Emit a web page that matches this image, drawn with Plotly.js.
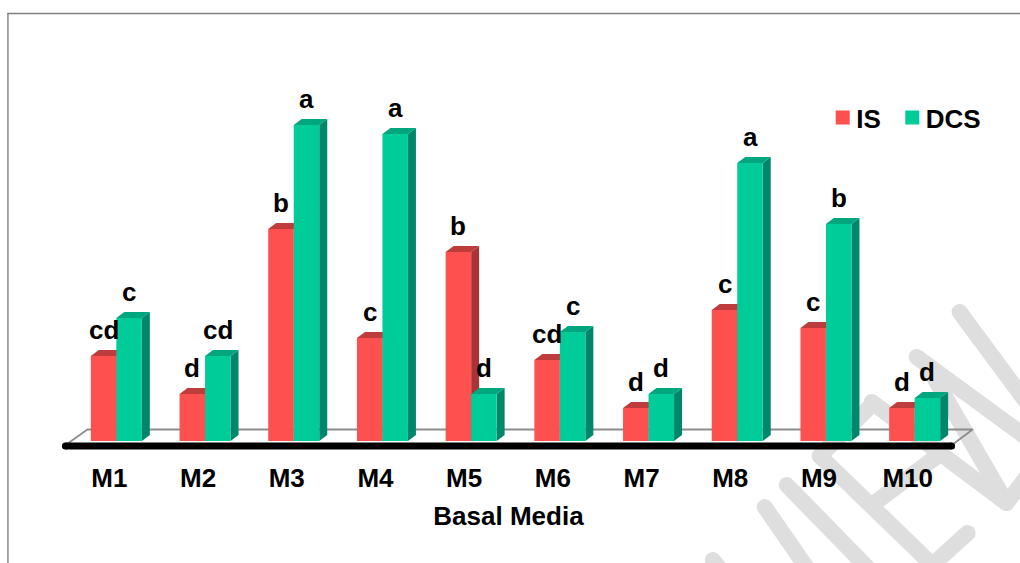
<!DOCTYPE html>
<html><head><meta charset="utf-8"><script src="https://cdn.plot.ly/plotly-3.0.1.min.js"></script>
<style>html,body{margin:0;padding:0;background:#fff}.shapelayer path{stroke-linecap:round;stroke-linejoin:round}
.legendtext{transform:translateX(-6.5px)}.legendbar path,.legendpoints path{transform:translate(20px,0) scale(1.17)}</style></head><body><div id="c" style="width:1020px;height:563px"></div>
<script>
const categories=['M1','M2','M3','M4','M5','M6','M7','M8','M9','M10'];
const isValues=[85,47,212,103,189,81,33,131,113,33];
const dcsValues=[123,85,316,307,47,109,47,278,217,43];
const isLetters=['cd','d','b','c','b','cd','d','c','c','d'];
const dcsLetters=['c','cd','a','a','d','c','d','a','b','d'];
const FONT='"Liberation Sans", Arial, sans-serif';
const W=1020,H=563,L=57.6,R=959.4,T=41,B=441;
const step=88.78, barW=0.2875, dx=8/step, dy=6;
const cols={is:{f:'#FF5050',t:'#BF3C3C',s:'#A83535'},dcs:{f:'#00CC99',t:'#00A67D',s:'#00866A'}};
function solid(path,color){return {type:'path',xref:'x',yref:'y',path,fillcolor:color,line:{width:0},layer:'between'};}
const shapes=[];
const px=x=>(x-L)/(R-L), py=y=>1-(y-T)/(B-T);
const wm=[[960,312,1040,420],[917,357,1040,447],[930,370,1007,503],[872,402,1007,503],[1007,503,1040,460],
[820,456,940,572],[968,533,925,572],[875,503,935,458],[820,456,873,404],[787,485,875,575],[765,507,812,575],[713,560,725,575]];
wm.forEach(s=>shapes.push({type:'line',xref:'paper',yref:'paper',x0:px(s[0]),y0:py(s[1]),x1:px(s[2]),y1:py(s[3]),line:{color:'#DEDEDE',width:16},layer:'below'}));
shapes.push({type:'line',xref:'paper',yref:'paper',x0:px(7.5),y0:py(13.5),x1:px(1025),y1:py(13.5),line:{color:'#808080',width:1.4},layer:'below'});
shapes.push({type:'line',xref:'paper',yref:'paper',x0:px(7.5),y0:py(13.5),x1:px(7.5),y1:py(570),line:{color:'#808080',width:1.4},layer:'below'});
shapes.push({type:'path',xref:'paper',yref:'paper',path:`M${px(68)},${py(443)}L${px(87)},${py(429.5)}L${px(973)},${py(429.5)}L${px(955)},${py(443)}`,line:{color:'#8C8C8C',width:1.8},layer:'below'});
shapes.push({type:'rect',xref:'paper',yref:'paper',x0:px(65),x1:px(952),y0:py(449.5),y1:py(442.5),fillcolor:'#000',line:{width:0},layer:'below'});
[65,952].forEach(c=>shapes.push({type:'circle',xref:'paper',yref:'paper',x0:px(c-3.5),x1:px(c+3.5),y0:py(449.5),y1:py(442.5),fillcolor:'#000',line:{width:0},layer:'below'}));
function box(val,x0,c){
  const x1=x0+barW;
  shapes.push(solid(`M${x1},0L${x1+dx},${dy}L${x1+dx},${val+dy}L${x1},${val}Z`,c.s));
  shapes.push(solid(`M${x0},${val}L${x0+dx},${val+dy}L${x1+dx},${val+dy}L${x1},${val}Z`,c.t));
}
categories.forEach((m,i)=>box(isValues[i],i-barW,cols.is));
categories.forEach((m,i)=>box(dcsValues[i],i,cols.dcs));
const annotations=[];
const lf={family:FONT,size:26,color:'#000',weight:700};
categories.forEach((m,i)=>{
  annotations.push({x:i-barW/2,y:isValues[i],xref:'x',yref:'y',text:isLetters[i],showarrow:false,yanchor:'middle',yshift:26,font:lf});
  annotations.push({x:i+barW/2,y:dcsValues[i],xref:'x',yref:'y',text:dcsLetters[i],showarrow:false,yanchor:'middle',yshift:26,font:lf});
});
const idx=categories.map((m,i)=>i);
const tickPos=idx.map(i=>i-7/step);
const traces=[
 {type:'bar',name:'IS',x:idx,y:isValues,marker:{color:cols.is.f,line:{width:0}},hoverinfo:'skip',cliponaxis:false},
 {type:'bar',name:'DCS',x:idx,y:dcsValues,marker:{color:cols.dcs.f,line:{width:0}},hoverinfo:'skip',cliponaxis:false}
];
const layout={width:W,height:H,paper_bgcolor:'rgba(0,0,0,0)',plot_bgcolor:'rgba(0,0,0,0)',
 margin:{l:L,r:W-R,t:T,b:H-B,pad:0},barmode:'group',bargap:1-2*barW,bargroupgap:0,
 xaxis:{type:'linear',range:[-0.5-14/step,9.5],tickmode:'array',tickvals:tickPos,ticktext:categories,showgrid:false,zeroline:false,showline:false,ticks:'',ticklen:0,
  tickfont:lf,automargin:false,ticklabelstandoff:19,
  title:{text:'Basal Media',font:lf,standoff:14}},
 yaxis:{range:[0,400],visible:false,fixedrange:true},
 legend:{orientation:'h',x:px(823),y:py(94),xanchor:'left',yanchor:'top',bgcolor:'rgba(0,0,0,0)',font:lf,itemwidth:30},
 shapes,annotations,showlegend:true};
Plotly.newPlot('c',traces,layout,{displayModeBar:false,staticPlot:true});
</script></body></html>
